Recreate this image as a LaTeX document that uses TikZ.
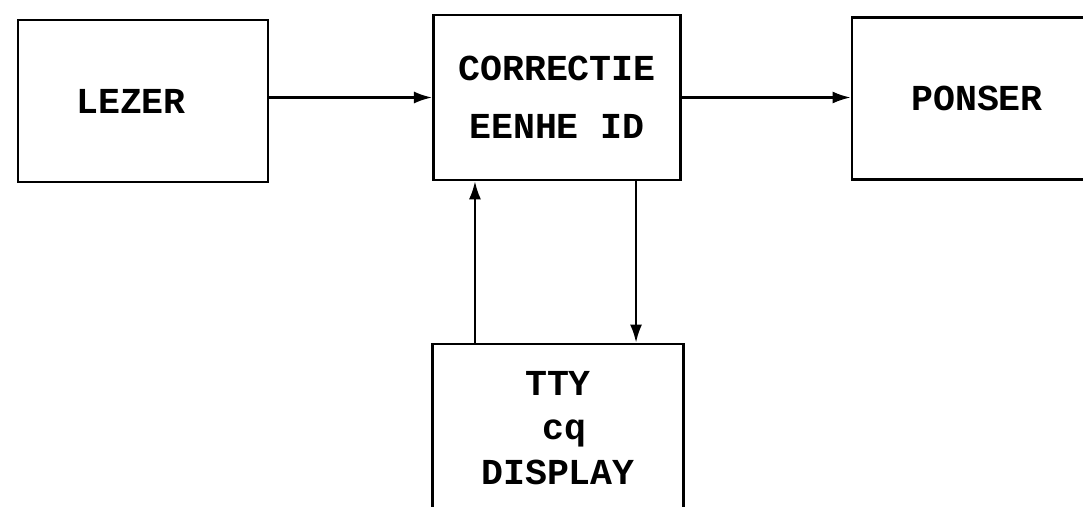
\documentclass[tikz,border=0pt]{standalone}
\usepackage{fontspec}
\setmonofont{Liberation Mono}
\usetikzlibrary{arrows.meta}
\tikzset{
	blok/.style={draw, line width=2pt, inner sep=0pt, align=center,
		font=\ttfamily\bfseries\fontsize{26}{30}\selectfont}
}
\begin{document}
\begin{tikzpicture}[x=0.025cm, y=-0.025cm, >={Latex[length=0.45cm, width=0.3cm]}]
			\clip (0,0) rectangle (1083,506);
			\node[blok, minimum width=6.25cm, minimum height=4.05cm] (lezer) at (143,101) {LEZER\hspace{0.6cm}};
			\node[blok, minimum width=6.18cm, minimum height=4.12cm] (corr) at (557,97.5) {CORRECTIE\hspace{0.3cm}\\[0.4cm]EENHE ID\hspace{0.3cm}};
			\node[blok, minimum width=6.25cm, minimum height=4.03cm] (ponser) at (977,98.5) {PONSER};
			\node[blok, minimum width=6.28cm, minimum height=4.2cm] (tty) at (558,428) {TTY\hspace{0.3cm}\\[0.05cm]\hspace{0.3cm}cq\\[0.05cm]DISPLAY};
			\draw[->, line width=1.5pt] (lezer.east |- corr) -- (corr.west);
			\draw[->, line width=1.5pt] (corr.east) -- (corr.east -| ponser.west);
			\draw[->, line width=1.5pt] ([xshift=1.1cm]tty.north west) -- ([xshift=1.1cm]tty.north west |- corr.south);
			\draw[->, line width=1.5pt] ([xshift=-1.15cm]corr.south east) -- ([xshift=-1.15cm]corr.south east |- tty.north);
		\end{tikzpicture}
\end{document}
